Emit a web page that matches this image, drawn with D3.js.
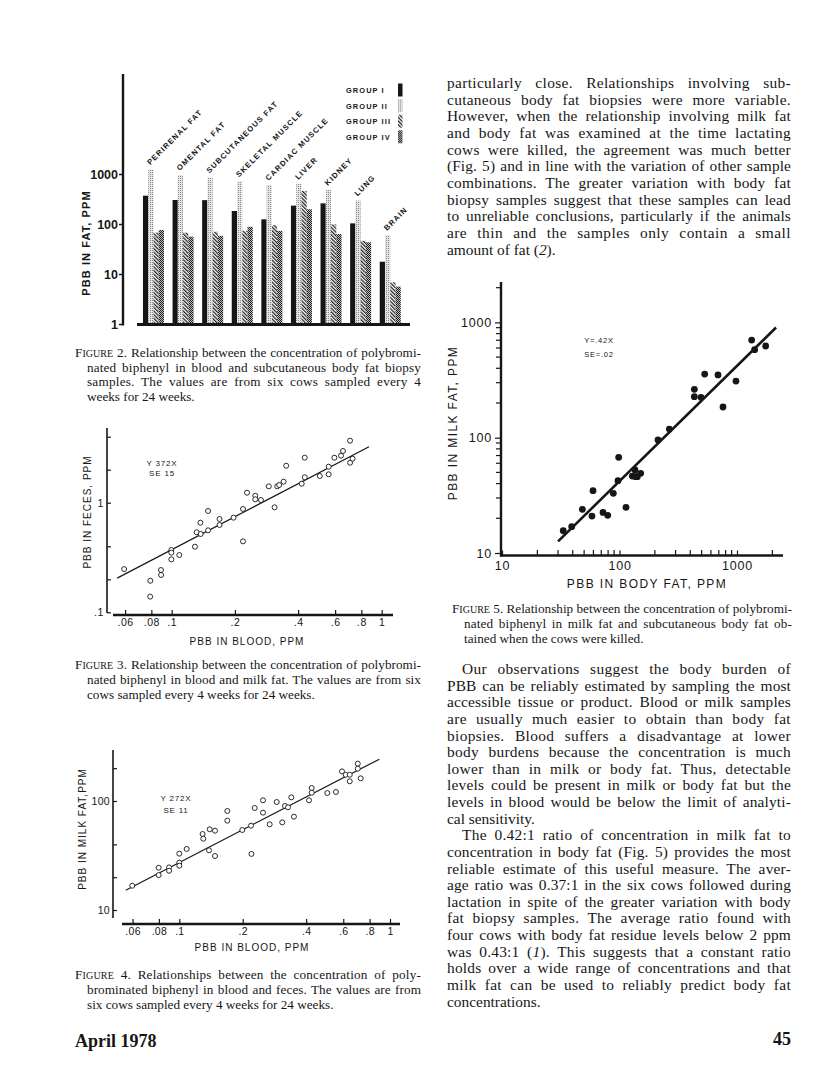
<!DOCTYPE html>
<html><head><meta charset="utf-8">
<script src="https://cdn.jsdelivr.net/npm/d3@7"></script>
<style>body{margin:0;background:#fff;}svg{display:block;}</style>
</head><body>
<svg id="page" width="816" height="1082"></svg>
<script>
// ---------------- DATA ----------------
// Figure 2 (bar chart, log scale)
const fig2Categories = ["PERIRENAL FAT","OMENTAL FAT","SUBCUTANEOUS FAT","SKELETAL MUSCLE","CARDIAC MUSCLE","LIVER","KIDNEY","LUNG","BRAIN"];
const fig2Groups = ["GROUP I","GROUP II","GROUP III","GROUP IV"];
const fig2GroupI   = [368, 302, 300, 182, 124, 233, 259, 103, 17.6];
const fig2GroupII  = [1240, 955, 855, 705, 600, 630, 479, 294, 60];
const fig2GroupIII = [67, 67, 70, 73, 95, 457, 98, 46, 6.8];
const fig2GroupIV  = [76, 56, 58, 88, 73, 197, 63, 43, 5.6];
const fig2YTicks = [1, 10, 100, 1000];

// Figure 3 (blood vs feces)
const fig3Blood = [0.0594,0.0791,0.079,0.0889,0.089,0.0996,0.0996,0.0996,0.1087,0.129,0.1315,0.1374,0.137,0.149,0.149,0.169,0.169,0.197,0.2185,0.2185,0.2284,0.25,0.25,0.266,0.29,0.309,0.318,0.325,0.341,0.351,0.416,0.43,0.43,0.507,0.559,0.559,0.595,0.64,0.654,0.707,0.707,0.727];
const fig3Feces = [0.248,0.194,0.139,0.243,0.219,0.370,0.350,0.304,0.333,0.397,0.537,0.518,0.657,0.840,0.560,0.71,0.626,0.73,0.876,0.444,1.233,1.158,1.074,1.058,1.41,0.908,1.41,1.45,1.555,2.176,1.49,2.575,1.705,1.752,1.816,2.13,2.575,2.685,2.963,3.68,2.317,2.52];
const fig3FitX = [0.055, 0.87];
const fig3FitY = [0.205, 3.24];
const fig3XTicks = [0.06,0.08,0.1,0.2,0.4,0.6,0.8,1];
const fig3XTickLabels = [".06",".08",".1",".2",".4",".6",".8","1"];
const fig3YTicks = [0.1,0.2,0.4,1,2,4];
const fig3YTickLabels = [".1","","","1","",""];

// Figure 4 (blood vs milk fat)
const fig4Blood = [0.0598,0.0798,0.0798,0.0894,0.0894,0.1,0.1,0.1,0.1084,0.129,0.130,0.1384,0.1394,0.1477,0.1477,0.169,0.169,0.199,0.219,0.22,0.228,0.2496,0.2496,0.2685,0.29,0.308,0.3175,0.328,0.340,0.350,0.4127,0.425,0.425,0.504,0.554,0.592,0.616,0.644,0.644,0.703,0.703,0.726];
const fig4Milk = [16.7,24.4,20.9,24.6,22.9,27.2,25.5,32.9,36.3,49.8,45.1,35.3,55,53.4,31.3,81,66,54.2,59.4,32.7,86.3,101.5,78.2,61.1,97.9,63.7,90,87.5,108,71.8,101.5,131.6,119.1,118.4,121,187,174,174,151.6,220,198,161.5];
const fig4FitX = [0.0557, 0.89];
const fig4FitY = [15.2, 242];
const fig4XTicks = [0.06,0.08,0.1,0.2,0.4,0.6,0.8,1];
const fig4XTickLabels = [".06",".08",".1",".2",".4",".6",".8","1"];
const fig4YTicks = [10,20,40,100,200];
const fig4YTickLabels = ["10","","","100",""];

// Figure 5 (body fat vs milk fat)
const fig5BodyFat = [33.2,39.2,48.3,58.3,59.5,72.4,79.4,88.6,97.1,98.4,113.6,128.5,137.3,135.5,141.8,151.4,212.8,265.6,433.5,433.5,494,531,689,760,980,1333,1413,1753];
const fig5MilkFat = [15.6,16.9,23.9,20.9,34.7,22.5,21.2,32.9,42.4,67.6,24.9,46.5,45.9,52.5,45.9,49.1,95.5,118.9,263,227,224,356,350,184.6,310,703,580,624];
const fig5FitX = [30, 2150];
const fig5FitY = [12.6, 903];
const fig5MajorTicks = [10, 100, 1000];
const fig5MinorTicks = [20,30,40,50,60,70,80,90,200,300,400,500,600,700,800,900,2000];

// Text
const fig2Caption = ["F^IGURE^ 2. Relationship between the concentration of polybromi-","nated biphenyl in blood and subcutaneous body fat biopsy","samples. The values are from six cows sampled every 4","weeks for 24 weeks."];
const fig3Caption = ["F^IGURE^ 3. Relationship between the concentration of polybromi-","nated biphenyl in blood and milk fat. The values are from six","cows sampled every 4 weeks for 24 weeks."];
const fig4Caption = ["F^IGURE^ 4. Relationships between the concentration of poly-","brominated biphenyl in blood and feces. The values are from","six cows sampled every 4 weeks for 24 weeks."];
const fig5Caption = ["F^IGURE^ 5. Relationship between the concentration of polybromi-","nated biphenyl in milk fat and subcutaneous body fat ob-","tained when the cows were killed."];
const para1 = ["particularly close. Relationships involving sub-","cutaneous body fat biopsies were more variable.","However, when the relationship involving milk fat","and body fat was examined at the time lactating","cows were killed, the agreement was much better","(Fig. 5) and in line with the variation of other sample","combinations. The greater variation with body fat","biopsy samples suggest that these samples can lead","to unreliable conclusions, particularly if the animals","are thin and the samples only contain a small","amount of fat (*2*)."];
const para2 = ["Our observations suggest the body burden of","PBB can be reliably estimated by sampling the most","accessible tissue or product. Blood or milk samples","are usually much easier to obtain than body fat","biopsies. Blood suffers a disadvantage at lower","body burdens because the concentration is much","lower than in milk or body fat. Thus, detectable","levels could be present in milk or body fat but the","levels in blood would be below the limit of analyti-","cal sensitivity."];
const para3 = ["The 0.42:1 ratio of concentration in milk fat to","concentration in body fat (Fig. 5) provides the most","reliable estimate of this useful measure. The aver-","age ratio was 0.37:1 in the six cows followed during","lactation in spite of the greater variation with body","fat biopsy samples. The average ratio found with","four cows with body fat residue levels below 2 ppm","was 0.43:1 (*1*). This suggests that a constant ratio","holds over a wide range of concentrations and that","milk fat can be used to reliably predict body fat","concentrations."];

// ---------------- DRAW ----------------
const svg = d3.select("#page");
svg.append("rect").attr("width",816).attr("height",1082).attr("fill","#fff");
const sans = "'Liberation Sans', Arial, sans-serif";
const serif = "'Liberation Serif', 'Times New Roman', serif";
const ink = "#161616";

// patterns
const defs = svg.append("defs");
const p2 = defs.append("pattern").attr("id","pII").attr("patternUnits","userSpaceOnUse").attr("width",2).attr("height",2);
p2.append("rect").attr("width",2).attr("height",2).attr("fill","#e4e4e4");
p2.append("rect").attr("width",1).attr("height",1).attr("fill","#8a8a8a");
const p3 = defs.append("pattern").attr("id","pIII").attr("patternUnits","userSpaceOnUse").attr("width",2.6).attr("height",2.6).attr("patternTransform","rotate(-45)");
p3.append("rect").attr("width",2.6).attr("height",2.6).attr("fill","#fff");
p3.append("rect").attr("width",1.3).attr("height",2.6).attr("fill","#222");
const p4 = defs.append("pattern").attr("id","pIV").attr("patternUnits","userSpaceOnUse").attr("width",2).attr("height",2);
p4.append("rect").attr("width",2).attr("height",2).attr("fill","#bdbdbd");
p4.append("rect").attr("width",1).attr("height",1).attr("fill","#1c1c1c");
p4.append("rect").attr("x",1).attr("y",1).attr("width",1).attr("height",1).attr("fill","#1c1c1c");

// ===== Figure 2 =====
const f2 = svg.append("g");
const y2 = d3.scaleLog().domain([1,1e5]).range([324,74]);
const x2 = d3.scaleBand().domain(fig2Categories).range([140,403.7]).paddingInner(0.29).paddingOuter(0.1);
const g2 = d3.scaleBand().domain(fig2Groups).range([0,x2.bandwidth()]);
const fig2Series = [fig2GroupI, fig2GroupII, fig2GroupIII, fig2GroupIV];
const fig2Fills = [ink,"url(#pII)","url(#pIII)","url(#pIV)"];
fig2Series.forEach((vals,gi)=>{
  f2.append("g").selectAll("rect").data(vals).join("rect")
    .attr("x",(d,i)=>x2(fig2Categories[i])+g2(fig2Groups[gi]))
    .attr("width",g2.bandwidth())
    .attr("y",d=>y2(d)).attr("height",d=>y2(1)-y2(d))
    .attr("fill",fig2Fills[gi]);
});
// category labels
f2.append("g").selectAll("text").data(fig2Categories).join("text")
  .attr("transform",(d,i)=>`translate(${x2(d)+g2("GROUP II")+2},${y2(fig2GroupII[i])-4}) rotate(-45)`)
  .attr("font-family",sans).attr("font-weight","bold").attr("font-size",7.6).attr("letter-spacing",1.15)
  .attr("fill",ink).text(d=>d);
// axis
const ax2 = d3.axisLeft(y2).tickValues(fig2YTicks).tickFormat(d3.format("d")).tickSize(4).tickPadding(1);
const ax2g = f2.append("g").attr("transform","translate(123,0)").call(ax2);
ax2g.select(".domain").remove();
ax2g.selectAll("line").attr("stroke",ink).attr("stroke-width",1.5);
ax2g.selectAll("text").attr("font-family",sans).attr("font-weight","bold").attr("font-size",12.5).attr("fill",ink);
f2.append("line").attr("x1",123).attr("x2",123).attr("y1",y2(1e5)).attr("y2",y2(1)+1.5).attr("stroke",ink).attr("stroke-width",2.4);
f2.append("line").attr("x1",137).attr("x2",410).attr("y1",y2(1)+0.5).attr("y2",y2(1)+0.5).attr("stroke",ink).attr("stroke-width",3);
f2.append("text").attr("transform","translate(90,243) rotate(-90)").attr("text-anchor","middle")
  .attr("font-family",sans).attr("font-weight","bold").attr("font-size",11).attr("letter-spacing",1.1).attr("fill",ink).text("PBB IN FAT, PPM");
// legend
const leg = f2.append("g").selectAll("g").data(fig2Groups).join("g")
  .attr("transform",(d,i)=>`translate(346,${90+i*15.6})`);
leg.append("text").attr("y",3).attr("font-family",sans).attr("font-weight","bold").attr("font-size",7.4).attr("letter-spacing",1.1).attr("fill",ink).text(d=>d);
leg.append("rect").attr("x",52).attr("y",-6.5).attr("width",4.5).attr("height",13).attr("fill",(d,i)=>fig2Fills[i]);

// generic scatter helper
function scatter(cfg){
  const g = svg.append("g");
  const {x,y} = cfg;
  g.append("line").attr("x1",cfg.yAxisX).attr("x2",cfg.yAxisX).attr("y1",cfg.yAxisTop).attr("y2",cfg.yAxisBottom).attr("stroke",ink).attr("stroke-width",cfg.yAxisW);
  g.append("line").attr("x1",cfg.xAxisLeft).attr("x2",cfg.xAxisRight).attr("y1",cfg.xAxisY).attr("y2",cfg.xAxisY).attr("stroke",ink).attr("stroke-width",cfg.xAxisW);
  const axx = d3.axisBottom(x).tickValues(cfg.xTicks).tickFormat((d,i)=>cfg.xTickLabels[i]).tickSize(cfg.xTickSize).tickPadding(cfg.xTickPad);
  const gx = g.append("g").attr("transform",`translate(0,${cfg.xAxisY})`).call(axx);
  gx.select(".domain").remove();
  gx.selectAll("line").attr("stroke",ink).attr("stroke-width",1.2);
  gx.selectAll("text").attr("font-family",sans).attr("font-size",cfg.tickFont).attr("letter-spacing",cfg.tickLS).attr("fill",ink);
  const axy = d3.axisLeft(y).tickValues(cfg.yTicks).tickFormat((d,i)=>cfg.yTickLabels[i]).tickSize(cfg.yTickSize).tickPadding(cfg.yTickPad);
  const gy = g.append("g").attr("transform",`translate(${cfg.yAxisX},0)`).call(axy);
  gy.select(".domain").remove();
  gy.selectAll("line").attr("stroke",ink).attr("stroke-width",1.2);
  gy.selectAll("text").attr("font-family",sans).attr("font-size",cfg.tickFont).attr("letter-spacing",cfg.tickLS).attr("fill",ink);
  g.append("line").attr("x1",x(cfg.fitX[0])).attr("y1",y(cfg.fitY[0])).attr("x2",x(cfg.fitX[1])).attr("y2",y(cfg.fitY[1]))
    .attr("stroke",ink).attr("stroke-width",cfg.fitW);
  g.append("g").selectAll("circle").data(cfg.xs).join("circle")
    .attr("cx",d=>x(d)).attr("cy",(d,i)=>y(cfg.ys[i])).attr("r",cfg.r)
    .attr("fill",cfg.filled?ink:"#fff").attr("stroke",ink).attr("stroke-width",cfg.filled?0:0.9);
  g.append("text").attr("x",cfg.xTitle[0]).attr("y",cfg.xTitle[1]).attr("text-anchor","middle")
    .attr("font-family",sans).attr("font-size",cfg.titleFont).attr("font-weight",cfg.titleWeight).attr("letter-spacing",cfg.titleLS).attr("fill",ink).text(cfg.xTitleText);
  g.append("text").attr("transform",`translate(${cfg.yTitle[0]},${cfg.yTitle[1]}) rotate(-90)`).attr("text-anchor","middle")
    .attr("font-family",sans).attr("font-size",cfg.titleFont).attr("font-weight",cfg.titleWeight).attr("letter-spacing",cfg.titleLS).attr("fill",ink).text(cfg.yTitleText);
  cfg.note.forEach((t,i)=>{
    g.append("text").attr("x",cfg.notePos[0]).attr("y",cfg.notePos[1]+i*cfg.noteGap).attr("text-anchor","middle")
      .attr("font-family",sans).attr("font-size",cfg.noteFont).attr("letter-spacing",0.8).attr("fill",ink).text(t);
  });
  return g;
}

// ===== Figure 3 =====
scatter({
  x: d3.scaleLog().domain([0.1,1]).range([171.7,381.7]),
  y: d3.scaleLog().domain([0.1,1]).range([612.3,502.7]),
  yAxisX:107, yAxisTop:428, yAxisBottom:613, yAxisW:1.6,
  xAxisLeft:113, xAxisRight:393, xAxisY:615, xAxisW:2.4,
  xTicks:fig3XTicks, xTickLabels:fig3XTickLabels, xTickSize:-5, xTickPad:4,
  yTicks:fig3YTicks, yTickLabels:fig3YTickLabels, yTickSize:-4, yTickPad:3,
  tickFont:10.5, tickLS:0.6,
  fitX:fig3FitX, fitY:fig3FitY, fitW:1.2,
  xs:fig3Blood, ys:fig3Feces, r:2.5, filled:false,
  xTitle:[247,645], xTitleText:"PBB IN BLOOD, PPM",
  yTitle:[91,512], yTitleText:"PBB IN FECES, PPM",
  titleFont:10, titleWeight:"normal", titleLS:1,
  note:["Y 372X","SE 15"], notePos:[162,465.5], noteGap:10.5, noteFont:8
});

// ===== Figure 4 =====
scatter({
  x: d3.scaleLog().domain([0.1,1]).range([179.3,390]),
  y: d3.scaleLog().domain([10,100]).range([910,801]),
  yAxisX:113, yAxisTop:750, yAxisBottom:918, yAxisW:1.6,
  xAxisLeft:122, xAxisRight:400, xAxisY:924, xAxisW:2.4,
  xTicks:fig4XTicks, xTickLabels:fig4XTickLabels, xTickSize:-5, xTickPad:4,
  yTicks:fig4YTicks, yTickLabels:fig4YTickLabels, yTickSize:-4, yTickPad:3,
  tickFont:10.5, tickLS:0.3,
  fitX:fig4FitX, fitY:fig4FitY, fitW:1.2,
  xs:fig4Blood, ys:fig4Milk, r:2.5, filled:false,
  xTitle:[252,951], xTitleText:"PBB IN BLOOD, PPM",
  yTitle:[86,829], yTitleText:"PBB IN MILK FAT,PPM",
  titleFont:10, titleWeight:"normal", titleLS:1,
  note:["Y 272X","SE 11"], notePos:[176,801], noteGap:11.5, noteFont:8
});

// ===== Figure 5 =====
const x5 = d3.scaleLog().domain([10,1000]).range([502,737]);
const y5 = d3.scaleLog().domain([10,1000]).range([553,322.4]);
const fig5 = scatter({
  x: x5, y: y5,
  yAxisX:501, yAxisTop:282, yAxisBottom:556.5, yAxisW:2.4,
  xAxisLeft:500, xAxisRight:783, xAxisY:555.5, xAxisW:2.6,
  xTicks:fig5MajorTicks, xTickLabels:["10","100","1000"], xTickSize:-5, xTickPad:6,
  yTicks:fig5MajorTicks, yTickLabels:["10","100","1000"], yTickSize:6, yTickPad:3,
  tickFont:12.5, tickLS:0.8,
  fitX:fig5FitX, fitY:fig5FitY, fitW:2.6,
  xs:fig5BodyFat, ys:fig5MilkFat, r:3.4, filled:true,
  xTitle:[647,588], xTitleText:"PBB IN BODY FAT, PPM",
  yTitle:[457,423], yTitleText:"PBB IN MILK FAT, PPM",
  titleFont:12, titleWeight:"normal", titleLS:1.4,
  note:["Y=.42X","SE=.02"], notePos:[599,343], noteGap:13.5, noteFont:7.5
});
fig5.append("g").selectAll("line").data(fig5MinorTicks).join("line")
  .attr("x1",d=>x5(d)).attr("x2",d=>x5(d)).attr("y1",555.5).attr("y2",550).attr("stroke",ink).attr("stroke-width",1.2);
fig5.append("g").selectAll("line").data(fig5MinorTicks).join("line")
  .attr("y1",d=>y5(d)).attr("y2",d=>y5(d)).attr("x1",501).attr("x2",496).attr("stroke",ink).attr("stroke-width",1.2);

// ===== Text =====
const txt = svg.append("g");
function addLine(x, y, width, str, size, justify, weight){
  const t = txt.append("text").attr("x",x).attr("y",y).attr("font-family",serif).attr("font-size",size).attr("fill",ink);
  if (weight) t.attr("font-weight",weight);
  const parts = str.split(/(\*[^*]+\*|\^[^^]+\^)/).filter(s=>s.length);
  parts.forEach(p=>{
    const ts = t.append("tspan");
    if (p[0]==="*") ts.attr("font-style","italic").text(p.slice(1,-1));
    else if (p[0]==="^") ts.attr("font-size",size*0.76).text(p.slice(1,-1));
    else ts.text(p);
  });
  if (justify){
    const plain = parts.map(p=>/^[*^]/.test(p)?p.slice(1,-1):p).join("");
    const n = (plain.match(/ /g)||[]).length;
    let nat = t.node().getComputedTextLength();
    const extra = width - nat;
    if (extra > 0){
      t.attr("letter-spacing", 0.3*extra/(plain.length-1));
      nat = t.node().getComputedTextLength();
    }
    if (n>0) t.attr("word-spacing",(width-nat)/n);
  }
  return t;
}
function caption(lines, x0, x1, indent, y0, lh, size){
  lines.forEach((s,i)=>{
    const x = i===0 ? x0 : x0+indent;
    addLine(x, y0+i*lh, x1-x, s, size, i<lines.length-1);
  });
}
function paragraph(lines, x0, x1, indent, y0, lh, size){
  lines.forEach((s,i)=>{
    const x = i===0 ? x0+indent : x0;
    addLine(x, y0+i*lh, x1-x, s, size, i<lines.length-1);
  });
}
caption(fig2Caption, 75, 421, 12, 357, 14.7, 13.2);
caption(fig3Caption, 75, 421, 12, 668.5, 15, 13.2);
caption(fig4Caption, 75, 421, 12, 979, 15, 13.2);
caption(fig5Caption, 452, 792, 12, 613, 15, 13.2);
paragraph(para1, 447, 791, 0, 88, 16.65, 15.4);
paragraph(para2, 447, 791, 15, 674, 16.63, 15.4);
paragraph(para3, 447, 791, 15, 674+10*16.63, 16.63, 15.4);
addLine(75, 1047, 0, "April 1978", 18, false, "bold");
addLine(791, 1045, 0, "45", 18, false, "bold").attr("text-anchor","end");
</script>
</body></html>
